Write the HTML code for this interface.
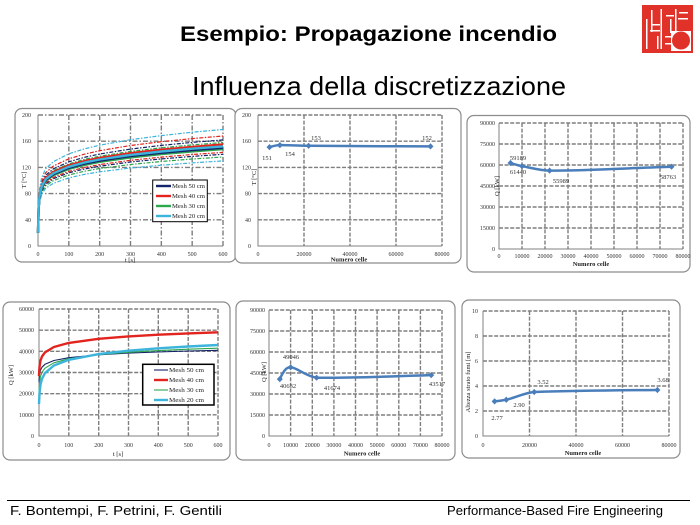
<!DOCTYPE html>
<html><head><meta charset="utf-8"><style>
html,body{margin:0;padding:0;background:#fff;}
svg{display:block;}
.tk{font-family:"Liberation Serif",serif;font-size:6px;fill:#333;}
.ax{font-family:"Liberation Serif",serif;font-size:6.5px;fill:#222;}
.axb{font-family:"Liberation Serif",serif;font-size:6.5px;font-weight:bold;fill:#222;}
.dl{font-family:"Liberation Serif",serif;font-size:6.5px;fill:#333;}
.lg{font-family:"Liberation Serif",serif;font-size:6.5px;fill:#222;}
.fr{fill:#fff;stroke:#8c8c8c;stroke-width:1.2;}
.gd{stroke:#7e7e7e;stroke-width:1.4;stroke-dasharray:4,1.6;fill:none;}
.gd1{stroke:#7e7e7e;stroke-width:1.4;stroke-dasharray:5,2,1.5,2;fill:none;}
.axl{stroke:#808080;stroke-width:1;fill:none;}
.ser{fill:none;stroke:#4a7ebb;stroke-width:2.5;stroke-linecap:round;}
.mk{fill:#4a7ebb;}
</style></head><body>
<svg width="700" height="525" viewBox="0 0 700 525" xmlns="http://www.w3.org/2000/svg">
<rect width="700" height="525" fill="#fff"/>

<!-- Titles -->
<text x="180" y="41" font-family="'Liberation Sans',sans-serif" font-weight="bold" font-size="21" textLength="377" lengthAdjust="spacingAndGlyphs">Esempio: Propagazione incendio</text>
<text x="192" y="95" font-family="'Liberation Sans',sans-serif" font-size="26" textLength="374" lengthAdjust="spacingAndGlyphs">Influenza della discretizzazione</text>

<!-- Logo -->
<g>
<rect x="643.5" y="6.5" width="48" height="45" fill="#e03228" stroke="#e03228" stroke-width="3"/>
<rect x="646" y="19" width="1.5" height="30" fill="#fff"/>
<rect x="651" y="10" width="1.5" height="22" fill="#fff"/>
<rect x="652" y="24" width="8" height="1.5" fill="#fff"/>
<rect x="650" y="30" width="10" height="1.5" fill="#fff"/>
<rect x="657" y="36" width="1.5" height="13" fill="#fff"/>
<rect x="660.5" y="9" width="1.5" height="40" fill="#fff"/>
<rect x="666" y="15" width="8" height="1.5" fill="#fff"/>
<rect x="670" y="19" width="1.5" height="14" fill="#fff"/>
<rect x="675" y="9" width="1.5" height="22" fill="#fff"/>
<rect x="679" y="12" width="9" height="1.5" fill="#fff"/>
<rect x="678" y="18" width="10" height="1.5" fill="#fff"/>
<rect x="665" y="36" width="6" height="1.5" fill="#fff"/>
<rect x="665" y="43" width="6" height="1.5" fill="#fff"/>
<rect x="671" y="31" width="20" height="20" fill="#fff"/>
<circle cx="681" cy="40.5" r="9" fill="#e03228"/>
</g>

<!-- ================= Panel 1 ================= -->
<rect class="fr" x="15" y="108.5" width="221" height="153.5" rx="7"/>
<g class="gd1">
<line x1="38" y1="219.8" x2="223" y2="219.8"/><line x1="38" y1="193.6" x2="223" y2="193.6"/>
<line x1="38" y1="167.4" x2="223" y2="167.4"/><line x1="38" y1="141.2" x2="223" y2="141.2"/>
<line x1="38" y1="115" x2="223" y2="115"/>
<line x1="68.83" y1="115" x2="68.83" y2="246"/><line x1="99.67" y1="115" x2="99.67" y2="246"/>
<line x1="130.5" y1="115" x2="130.5" y2="246"/><line x1="161.33" y1="115" x2="161.33" y2="246"/>
<line x1="192.17" y1="115" x2="192.17" y2="246"/><line x1="223" y1="115" x2="223" y2="246"/>
</g>
<polyline class="axl" points="38,115 38,246 223,246"/>
<g class="tk" text-anchor="end">
<text x="31" y="248">0</text><text x="31" y="221.8">40</text><text x="31" y="195.6">80</text>
<text x="31" y="169.4">120</text><text x="31" y="143.2">160</text><text x="31" y="117">200</text>
</g>
<g class="tk" text-anchor="middle">
<text x="38" y="256">0</text><text x="68.83" y="256">100</text><text x="99.67" y="256">200</text>
<text x="130.5" y="256">300</text><text x="161.33" y="256">400</text><text x="192.17" y="256">500</text><text x="223" y="256">600</text>
</g>
<text class="ax" x="130" y="262" text-anchor="middle">t [s]</text>
<text class="ax" transform="translate(26,180) rotate(-90)" text-anchor="middle">T [°C]</text>
<g fill="none" stroke-linejoin="round">
<polyline stroke="#3cb4dc" stroke-width="1.2" stroke-dasharray="4,1.5,1.5,1.5" points="38,232.9 38.62,212.2 39.54,202.6 41.7,194.3 45.71,188.2 53.42,183.3 68.83,177.9 84.25,174.4 99.67,171.8 130.5,168.0 161.33,165.2 192.17,162.9 223,160.9"/>
<polyline stroke="#2fa64e" stroke-width="1.2" stroke-dasharray="4,1.5,1.5,1.5" points="38,232.9 38.62,211.1 39.54,200.9 41.7,192.2 45.71,185.8 53.42,180.6 68.83,174.9 84.25,171.3 99.67,168.5 130.5,164.5 161.33,161.5 192.17,159.0 223,157.0"/>
<polyline stroke="#14246a" stroke-width="1.2" stroke-dasharray="4,1.5,1.5,1.5" points="38,232.9 38.62,210.3 39.54,199.8 41.7,190.7 45.71,184.1 53.42,178.7 68.83,172.8 84.25,169.0 99.67,166.2 130.5,162.0 161.33,158.9 192.17,156.4 223,154.3"/>
<polyline stroke="#e2231e" stroke-width="1.2" stroke-dasharray="4,1.5,1.5,1.5" points="38,232.9 38.62,209.8 39.54,199.0 41.7,189.7 45.71,182.9 53.42,177.4 68.83,171.4 84.25,167.5 99.67,164.6 130.5,160.3 161.33,157.1 192.17,154.5 223,152.4"/>
<polyline stroke="#2fa64e" stroke-width="1.2" stroke-dasharray="4,1.5,1.5,1.5" points="38,232.9 38.62,206.9 39.54,194.8 41.7,184.4 45.71,176.8 53.42,170.5 68.83,163.8 84.25,159.4 99.67,156.2 130.5,151.4 161.33,147.8 192.17,144.9 223,142.5"/>
<polyline stroke="#14246a" stroke-width="1.2" stroke-dasharray="4,1.5,1.5,1.5" points="38,232.9 38.62,206.2 39.54,193.7 41.7,183.0 45.71,175.2 53.42,168.8 68.83,161.8 84.25,157.4 99.67,154.0 130.5,149.1 161.33,145.4 192.17,142.4 223,139.9"/>
<polyline stroke="#e2231e" stroke-width="1.2" stroke-dasharray="4,1.5,1.5,1.5" points="38,232.9 38.62,205.0 39.54,192.0 41.7,180.9 45.71,172.7 53.42,166.0 68.83,158.8 84.25,154.2 99.67,150.7 130.5,145.5 161.33,141.7 192.17,138.6 223,136.0"/>
<polyline stroke="#3cb4dc" stroke-width="1.2" stroke-dasharray="4,1.5,1.5,1.5" points="38,232.9 38.62,203.2 39.54,189.3 41.7,177.4 45.71,168.7 53.42,161.6 68.83,153.8 84.25,148.9 99.67,145.2 130.5,139.7 161.33,135.6 192.17,132.2 223,129.5"/>
<polyline stroke="#2fa64e" stroke-width="2.4" points="38,232.9 38.62,208.8 39.54,197.6 41.7,188.0 45.71,180.9 53.42,175.1 68.83,168.9 84.25,164.9 99.67,161.8 130.5,157.4 161.33,154.1 192.17,151.4 223,149.1"/>
<polyline stroke="#e2231e" stroke-width="2.4" points="38,232.9 38.62,207.5 39.54,195.7 41.7,185.5 45.71,178.0 53.42,172.0 68.83,165.4 84.25,161.1 99.67,157.9 130.5,153.2 161.33,149.7 192.17,146.9 223,144.5"/>
<polyline stroke="#14246a" stroke-width="2.4" points="38,232.9 38.62,208.4 39.54,197.0 41.7,187.2 45.71,180.1 53.42,174.2 68.83,167.8 84.25,163.7 99.67,160.7 130.5,156.1 161.33,152.8 192.17,150.0 223,147.8"/>
<polyline stroke="#3cb4dc" stroke-width="2.4" points="38,232.9 38.62,208.0 39.54,196.4 41.7,186.5 45.71,179.2 53.42,173.3 68.83,166.8 84.25,162.6 99.67,159.5 130.5,154.9 161.33,151.5 192.17,148.7 223,146.4"/>
</g>
<rect x="152.7" y="180" width="54.6" height="41.7" fill="#fff" stroke="#000" stroke-width="1"/>
<line x1="156" y1="186" x2="171" y2="186" stroke="#14246a" stroke-width="2.4"/>
<line x1="156" y1="196" x2="171" y2="196" stroke="#e2231e" stroke-width="2.4"/>
<line x1="156" y1="206" x2="171" y2="206" stroke="#2fa64e" stroke-width="2.4"/>
<line x1="156" y1="216" x2="171" y2="216" stroke="#3cb4dc" stroke-width="2.4"/>
<g class="lg">
<text x="172" y="188" textLength="33" lengthAdjust="spacingAndGlyphs">Mesh 50 cm</text>
<text x="172" y="198" textLength="33" lengthAdjust="spacingAndGlyphs">Mesh 40 cm</text>
<text x="172" y="208" textLength="33" lengthAdjust="spacingAndGlyphs">Mesh 30 cm</text>
<text x="172" y="218" textLength="33" lengthAdjust="spacingAndGlyphs">Mesh 20 cm</text>
</g>

<!-- ================= Panel 2 ================= -->
<rect class="fr" x="235" y="108.5" width="226" height="154.5" rx="7"/>
<g class="gd">
<line x1="258" y1="219.8" x2="442" y2="219.8"/><line x1="258" y1="193.6" x2="442" y2="193.6"/>
<line x1="258" y1="167.4" x2="442" y2="167.4"/><line x1="258" y1="141.2" x2="442" y2="141.2"/>
<line x1="258" y1="115" x2="442" y2="115"/>
<line x1="304" y1="115" x2="304" y2="246"/><line x1="350" y1="115" x2="350" y2="246"/>
<line x1="396" y1="115" x2="396" y2="246"/><line x1="442" y1="115" x2="442" y2="246"/>
</g>
<polyline class="axl" points="258,115 258,246 442,246"/>
<g class="tk" text-anchor="end">
<text x="251" y="248">0</text><text x="251" y="221.8">40</text><text x="251" y="195.6">80</text>
<text x="251" y="169.4">120</text><text x="251" y="143.2">160</text><text x="251" y="117">200</text>
</g>
<g class="tk" text-anchor="middle">
<text x="258" y="256">0</text><text x="304" y="256">20000</text><text x="350" y="256">40000</text>
<text x="396" y="256">60000</text><text x="442" y="256">80000</text>
</g>
<text class="axb" x="349" y="261.5" text-anchor="middle">Numero celle</text>
<text class="ax" transform="translate(256,177) rotate(-90)" text-anchor="middle">T [°C]</text>
<path class="ser" d="M269.5,147.1 C273,146 276,145.2 279.9,145.1 C290,145 300,145.7 308.6,145.8 C350,146 390,146.3 430.5,146.4"/>
<g class="mk">
<path d="M269.5,144 l3,3.1 l-3,3.1 l-3,-3.1z"/><path d="M279.9,142 l3,3.1 l-3,3.1 l-3,-3.1z"/>
<path d="M308.6,142.7 l3,3.1 l-3,3.1 l-3,-3.1z"/><path d="M430.5,143.3 l3,3.1 l-3,3.1 l-3,-3.1z"/>
</g>
<g class="dl" text-anchor="middle">
<text x="267" y="160">151</text><text x="290" y="156">154</text><text x="316" y="140">153</text><text x="427" y="140">152</text>
</g>

<!-- ================= Panel 3 ================= -->
<rect class="fr" x="467" y="115.5" width="223" height="156.5" rx="7"/>
<g class="gd">
<line x1="499" y1="228" x2="683" y2="228"/><line x1="499" y1="207" x2="683" y2="207"/>
<line x1="499" y1="186" x2="683" y2="186"/><line x1="499" y1="165" x2="683" y2="165"/>
<line x1="499" y1="144" x2="683" y2="144"/><line x1="499" y1="123" x2="683" y2="123"/>
<line x1="522" y1="123" x2="522" y2="249"/><line x1="545" y1="123" x2="545" y2="249"/>
<line x1="568" y1="123" x2="568" y2="249"/><line x1="591" y1="123" x2="591" y2="249"/>
<line x1="614" y1="123" x2="614" y2="249"/><line x1="637" y1="123" x2="637" y2="249"/>
<line x1="660" y1="123" x2="660" y2="249"/><line x1="683" y1="123" x2="683" y2="249"/>
</g>
<polyline class="axl" points="499,123 499,249 683,249"/>
<g class="tk" text-anchor="end">
<text x="495" y="251">0</text><text x="495" y="230">15000</text><text x="495" y="209">30000</text>
<text x="495" y="188">45000</text><text x="495" y="167">60000</text><text x="495" y="146">75000</text><text x="495" y="125">90000</text>
</g>
<g class="tk" text-anchor="middle">
<text x="499" y="258">0</text><text x="522" y="258">10000</text><text x="545" y="258">20000</text>
<text x="568" y="258">30000</text><text x="591" y="258">40000</text><text x="614" y="258">50000</text>
<text x="637" y="258">60000</text><text x="660" y="258">70000</text><text x="683" y="258">80000</text>
</g>
<text class="axb" x="591" y="266" text-anchor="middle">Numero celle</text>
<text class="ax" transform="translate(499,186) rotate(-90)" text-anchor="middle">Q [kW]</text>
<path class="ser" d="M510.5,163 C514,164 518,165.5 522,166.1 C532,168 540,170.6 549.6,170.6 C590,170.6 630,168 671.5,166.7"/>
<g class="mk">
<path d="M510.5,159.9 l3,3.1 l-3,3.1 l-3,-3.1z"/><path d="M522,163 l3,3.1 l-3,3.1 l-3,-3.1z"/>
<path d="M549.6,167.5 l3,3.1 l-3,3.1 l-3,-3.1z"/><path d="M671.5,163.6 l3,3.1 l-3,3.1 l-3,-3.1z"/>
</g>
<g class="dl" text-anchor="middle">
<text x="518" y="160">59189</text><text x="518" y="174">61440</text><text x="561" y="183">55989</text><text x="668" y="179">58763</text>
</g>

<!-- ================= Panel 4 ================= -->
<rect class="fr" x="3" y="302" width="227" height="158" rx="7"/>
<g class="gd">
<line x1="39" y1="414.8" x2="218" y2="414.8"/><line x1="39" y1="393.7" x2="218" y2="393.7"/>
<line x1="39" y1="372.5" x2="218" y2="372.5"/><line x1="39" y1="351.3" x2="218" y2="351.3"/>
<line x1="39" y1="330.2" x2="218" y2="330.2"/><line x1="39" y1="309" x2="218" y2="309"/>
<line x1="68.8" y1="309" x2="68.8" y2="436"/><line x1="98.7" y1="309" x2="98.7" y2="436"/>
<line x1="128.5" y1="309" x2="128.5" y2="436"/><line x1="158.3" y1="309" x2="158.3" y2="436"/>
<line x1="188.2" y1="309" x2="188.2" y2="436"/><line x1="218" y1="309" x2="218" y2="436"/>
</g>
<polyline class="axl" points="39,309 39,436 218,436"/>
<g class="tk" text-anchor="end">
<text x="34" y="438">0</text><text x="34" y="416.8">10000</text><text x="34" y="395.7">20000</text>
<text x="34" y="374.5">30000</text><text x="34" y="353.3">40000</text><text x="34" y="332.2">50000</text><text x="34" y="311">60000</text>
</g>
<g class="tk" text-anchor="middle">
<text x="39" y="447">0</text><text x="68.8" y="447">100</text><text x="98.7" y="447">200</text>
<text x="128.5" y="447">300</text><text x="158.3" y="447">400</text><text x="188.2" y="447">500</text><text x="218" y="447">600</text>
</g>
<text class="ax" x="118" y="456" text-anchor="middle">t [s]</text>
<text class="ax" transform="translate(13,375) rotate(-90)" text-anchor="middle">Q [kW]</text>
<g fill="none" stroke-linejoin="round">
<polyline stroke="#14246a" stroke-width="1.1" points="39,382 39.30,376.7 39.60,373.9 40.49,370.1 41.98,367.2 44.97,364.3 53.92,360.5 68.83,357.7 98.67,354.8 128.5,353.1 158.3,352.0 188.2,351.0 218,350.3"/>
<polyline stroke="#e2231e" stroke-width="2.4" points="39,376 39.30,370.1 39.60,366.0 40.49,360.6 41.98,356.5 44.97,352.4 53.92,347.0 68.83,342.9 98.67,338.8 128.5,336.4 158.3,334.7 188.2,333.4 218,332.3"/>
<polyline stroke="#2fa64e" stroke-width="1.1" points="39,392 39.30,385.9 39.60,381.8 40.49,376.4 41.98,372.3 44.97,368.2 53.92,362.8 68.83,358.7 98.67,354.7 128.5,352.3 158.3,350.6 188.2,349.2 218,348.2"/>
<polyline stroke="#3cb4dc" stroke-width="2.4" points="39,404 39.30,397.9 39.60,392.1 40.49,384.6 41.98,378.8 44.97,373.1 53.92,365.5 68.83,359.8 98.67,354.1 128.5,350.7 158.3,348.3 188.2,346.5 218,345.0"/>
</g>
<rect x="142.7" y="364.3" width="71.3" height="40.7" fill="#fff" stroke="#000" stroke-width="1.5"/>
<line x1="154" y1="370" x2="168" y2="370" stroke="#14246a" stroke-width="1.1"/>
<line x1="154" y1="380" x2="168" y2="380" stroke="#e2231e" stroke-width="2.4"/>
<line x1="154" y1="390" x2="168" y2="390" stroke="#2fa64e" stroke-width="1.1"/>
<line x1="154" y1="400" x2="168" y2="400" stroke="#3cb4dc" stroke-width="2.4"/>
<g class="lg">
<text x="169" y="372" textLength="35" lengthAdjust="spacingAndGlyphs">Mesh 50 cm</text>
<text x="169" y="382" textLength="35" lengthAdjust="spacingAndGlyphs">Mesh 40 cm</text>
<text x="169" y="392" textLength="35" lengthAdjust="spacingAndGlyphs">Mesh 30 cm</text>
<text x="169" y="402" textLength="35" lengthAdjust="spacingAndGlyphs">Mesh 20 cm</text>
</g>

<!-- ================= Panel 5 ================= -->
<rect class="fr" x="236" y="301" width="219" height="159" rx="7"/>
<g class="gd">
<line x1="269" y1="415" x2="442" y2="415"/><line x1="269" y1="394" x2="442" y2="394"/>
<line x1="269" y1="373" x2="442" y2="373"/><line x1="269" y1="352" x2="442" y2="352"/>
<line x1="269" y1="331" x2="442" y2="331"/><line x1="269" y1="310" x2="442" y2="310"/>
<line x1="290.6" y1="310" x2="290.6" y2="436"/><line x1="312.3" y1="310" x2="312.3" y2="436"/>
<line x1="333.9" y1="310" x2="333.9" y2="436"/><line x1="355.5" y1="310" x2="355.5" y2="436"/>
<line x1="377.1" y1="310" x2="377.1" y2="436"/><line x1="398.8" y1="310" x2="398.8" y2="436"/>
<line x1="420.4" y1="310" x2="420.4" y2="436"/><line x1="442" y1="310" x2="442" y2="436"/>
</g>
<polyline class="axl" points="269,310 269,436 442,436"/>
<g class="tk" text-anchor="end">
<text x="265" y="438">0</text><text x="265" y="417">15000</text><text x="265" y="396">30000</text>
<text x="265" y="375">45000</text><text x="265" y="354">60000</text><text x="265" y="333">75000</text><text x="265" y="312">90000</text>
</g>
<g class="tk" text-anchor="middle">
<text x="269" y="447">0</text><text x="290.6" y="447">10000</text><text x="312.3" y="447">20000</text>
<text x="333.9" y="447">30000</text><text x="355.5" y="447">40000</text><text x="377.1" y="447">50000</text>
<text x="398.8" y="447">60000</text><text x="420.4" y="447">70000</text><text x="442" y="447">80000</text>
</g>
<text class="axb" x="362" y="455.5" text-anchor="middle">Numero celle</text>
<text class="ax" transform="translate(266,372) rotate(-90)" text-anchor="middle">Q [kW]</text>
<path class="ser" d="M279.8,379.1 C283,372 286,367 290.6,367.3 C297,367.5 305,376 316.6,377.7 C360,378 400,376 431.2,375.1"/>
<g class="mk">
<path d="M279.8,376 l3,3.1 l-3,3.1 l-3,-3.1z"/><path d="M290.6,364.2 l3,3.1 l-3,3.1 l-3,-3.1z"/>
<path d="M316.6,374.6 l3,3.1 l-3,3.1 l-3,-3.1z"/><path d="M431.2,372 l3,3.1 l-3,3.1 l-3,-3.1z"/>
</g>
<g class="dl" text-anchor="middle">
<text x="291" y="359">49046</text><text x="288" y="388">40632</text><text x="332" y="390">41674</text><text x="437" y="386">43517</text>
</g>

<!-- ================= Panel 6 ================= -->
<rect class="fr" x="462" y="300" width="218" height="158" rx="7"/>
<g class="gd">
<line x1="483" y1="411" x2="669" y2="411"/><line x1="483" y1="386" x2="669" y2="386"/>
<line x1="483" y1="361" x2="669" y2="361"/><line x1="483" y1="336" x2="669" y2="336"/>
<line x1="483" y1="311" x2="669" y2="311"/>
<line x1="529.5" y1="311" x2="529.5" y2="436"/><line x1="576" y1="311" x2="576" y2="436"/>
<line x1="622.5" y1="311" x2="622.5" y2="436"/><line x1="669" y1="311" x2="669" y2="436"/>
</g>
<polyline class="axl" points="483,311 483,436 669,436"/>
<g class="tk" text-anchor="end">
<text x="478" y="438">0</text><text x="478" y="413">2</text><text x="478" y="388">4</text>
<text x="478" y="363">6</text><text x="478" y="338">8</text><text x="478" y="313">10</text>
</g>
<g class="tk" text-anchor="middle">
<text x="483" y="447">0</text><text x="529.5" y="447">20000</text><text x="576" y="447">40000</text>
<text x="622.5" y="447">60000</text><text x="669" y="447">80000</text>
</g>
<text class="axb" x="583" y="455" text-anchor="middle">Numero celle</text>
<text class="ax" transform="translate(470,382) rotate(-90)" text-anchor="middle" font-size="5.5">Altezza strato fumi [m]</text>
<path class="ser" d="M494.6,401.4 C498,401 502,400.5 506.3,399.75 C516,397.5 524,393 534.2,392 C580,390.5 620,390.3 657.4,390"/>
<g class="mk">
<path d="M494.6,398.3 l3,3.1 l-3,3.1 l-3,-3.1z"/><path d="M506.3,396.65 l3,3.1 l-3,3.1 l-3,-3.1z"/>
<path d="M534.2,388.9 l3,3.1 l-3,3.1 l-3,-3.1z"/><path d="M657.4,386.9 l3,3.1 l-3,3.1 l-3,-3.1z"/>
</g>
<g class="dl" text-anchor="middle">
<text x="497" y="420">2.77</text><text x="519" y="407">2.90</text><text x="543" y="384">3.52</text><text x="663" y="382">3.68</text>
</g>

<!-- Footer -->
<line x1="7" y1="500.5" x2="690" y2="500.5" stroke="#000" stroke-width="1"/>
<text x="10" y="515" font-family="'Liberation Sans',sans-serif" font-size="13" textLength="212" lengthAdjust="spacingAndGlyphs">F. Bontempi, F. Petrini, F. Gentili</text>
<text x="447" y="515" font-family="'Liberation Sans',sans-serif" font-size="13" textLength="216" lengthAdjust="spacingAndGlyphs">Performance-Based Fire Engineering</text>
</svg>
</body></html>
